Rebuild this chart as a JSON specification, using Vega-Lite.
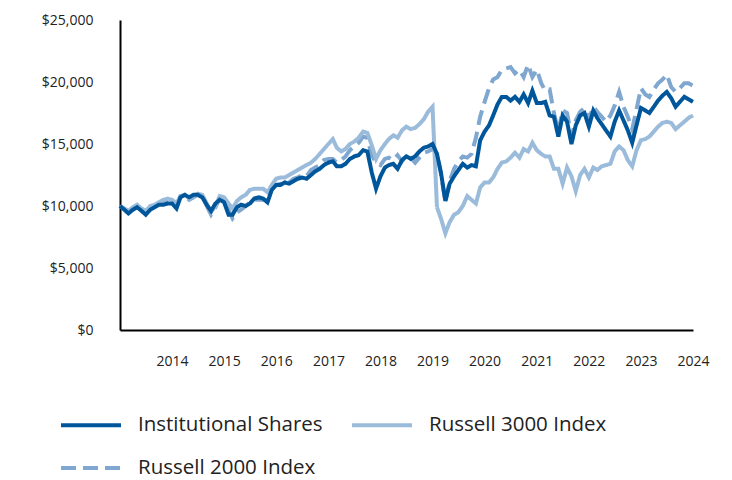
{
  "$schema": "https://vega.github.io/schema/vega-lite/v6.json",
  "width": 573,
  "height": 310,
  "autosize": {"type": "none"},
  "padding": {"left": 120, "top": 20, "right": 39, "bottom": 150},
  "background": "white",
  "config": {"font": "Open Sans", "view": {"stroke": null}},
  "datasets": {
    "inst": [
      {"date":"2013-01","series":"Institutional Shares","value":10000},{"date":"2013-02","series":"Institutional Shares","value":9700},{"date":"2013-03","series":"Institutional Shares","value":9400},{"date":"2013-04","series":"Institutional Shares","value":9700},{"date":"2013-05","series":"Institutional Shares","value":9900},{"date":"2013-06","series":"Institutional Shares","value":9600},{"date":"2013-07","series":"Institutional Shares","value":9300},{"date":"2013-08","series":"Institutional Shares","value":9700},{"date":"2013-09","series":"Institutional Shares","value":9900},{"date":"2013-10","series":"Institutional Shares","value":10100},{"date":"2013-11","series":"Institutional Shares","value":10100},{"date":"2013-12","series":"Institutional Shares","value":10200},
      {"date":"2014-01","series":"Institutional Shares","value":10200},{"date":"2014-02","series":"Institutional Shares","value":9800},{"date":"2014-03","series":"Institutional Shares","value":10700},{"date":"2014-04","series":"Institutional Shares","value":10900},{"date":"2014-05","series":"Institutional Shares","value":10700},{"date":"2014-06","series":"Institutional Shares","value":10900},{"date":"2014-07","series":"Institutional Shares","value":10900},{"date":"2014-08","series":"Institutional Shares","value":10700},{"date":"2014-09","series":"Institutional Shares","value":10100},{"date":"2014-10","series":"Institutional Shares","value":9600},{"date":"2014-11","series":"Institutional Shares","value":10200},{"date":"2014-12","series":"Institutional Shares","value":10500},
      {"date":"2015-01","series":"Institutional Shares","value":10300},{"date":"2015-02","series":"Institutional Shares","value":9300},{"date":"2015-03","series":"Institutional Shares","value":9300},{"date":"2015-04","series":"Institutional Shares","value":9900},{"date":"2015-05","series":"Institutional Shares","value":10100},{"date":"2015-06","series":"Institutional Shares","value":10000},{"date":"2015-07","series":"Institutional Shares","value":10200},{"date":"2015-08","series":"Institutional Shares","value":10600},{"date":"2015-09","series":"Institutional Shares","value":10700},{"date":"2015-10","series":"Institutional Shares","value":10600},{"date":"2015-11","series":"Institutional Shares","value":10300},{"date":"2015-12","series":"Institutional Shares","value":11300},
      {"date":"2016-01","series":"Institutional Shares","value":11700},{"date":"2016-02","series":"Institutional Shares","value":11700},{"date":"2016-03","series":"Institutional Shares","value":11900},{"date":"2016-04","series":"Institutional Shares","value":11800},{"date":"2016-05","series":"Institutional Shares","value":12000},{"date":"2016-06","series":"Institutional Shares","value":12200},{"date":"2016-07","series":"Institutional Shares","value":12300},{"date":"2016-08","series":"Institutional Shares","value":12200},{"date":"2016-09","series":"Institutional Shares","value":12500},{"date":"2016-10","series":"Institutional Shares","value":12800},{"date":"2016-11","series":"Institutional Shares","value":13000},{"date":"2016-12","series":"Institutional Shares","value":13300},
      {"date":"2017-01","series":"Institutional Shares","value":13500},{"date":"2017-02","series":"Institutional Shares","value":13600},{"date":"2017-03","series":"Institutional Shares","value":13200},{"date":"2017-04","series":"Institutional Shares","value":13200},{"date":"2017-05","series":"Institutional Shares","value":13400},{"date":"2017-06","series":"Institutional Shares","value":13800},{"date":"2017-07","series":"Institutional Shares","value":14000},{"date":"2017-08","series":"Institutional Shares","value":14100},{"date":"2017-09","series":"Institutional Shares","value":14500},{"date":"2017-10","series":"Institutional Shares","value":14400},{"date":"2017-11","series":"Institutional Shares","value":12700},{"date":"2017-12","series":"Institutional Shares","value":11400},
      {"date":"2018-01","series":"Institutional Shares","value":12400},{"date":"2018-02","series":"Institutional Shares","value":13100},{"date":"2018-03","series":"Institutional Shares","value":13300},{"date":"2018-04","series":"Institutional Shares","value":13400},{"date":"2018-05","series":"Institutional Shares","value":13000},{"date":"2018-06","series":"Institutional Shares","value":13700},{"date":"2018-07","series":"Institutional Shares","value":14000},{"date":"2018-08","series":"Institutional Shares","value":13800},{"date":"2018-09","series":"Institutional Shares","value":14000},{"date":"2018-10","series":"Institutional Shares","value":14400},{"date":"2018-11","series":"Institutional Shares","value":14700},{"date":"2018-12","series":"Institutional Shares","value":14800},
      {"date":"2019-01","series":"Institutional Shares","value":15000},{"date":"2019-02","series":"Institutional Shares","value":14200},{"date":"2019-03","series":"Institutional Shares","value":12700},{"date":"2019-04","series":"Institutional Shares","value":10400},{"date":"2019-05","series":"Institutional Shares","value":11800},{"date":"2019-06","series":"Institutional Shares","value":12400},{"date":"2019-07","series":"Institutional Shares","value":12900},{"date":"2019-08","series":"Institutional Shares","value":13400},{"date":"2019-09","series":"Institutional Shares","value":13100},{"date":"2019-10","series":"Institutional Shares","value":13300},{"date":"2019-11","series":"Institutional Shares","value":13200},{"date":"2019-12","series":"Institutional Shares","value":15300},
      {"date":"2020-01","series":"Institutional Shares","value":16000},{"date":"2020-02","series":"Institutional Shares","value":16500},{"date":"2020-03","series":"Institutional Shares","value":17300},{"date":"2020-04","series":"Institutional Shares","value":18200},{"date":"2020-05","series":"Institutional Shares","value":18800},{"date":"2020-06","series":"Institutional Shares","value":18800},{"date":"2020-07","series":"Institutional Shares","value":18500},{"date":"2020-08","series":"Institutional Shares","value":18800},{"date":"2020-09","series":"Institutional Shares","value":18400},{"date":"2020-10","series":"Institutional Shares","value":19000},{"date":"2020-11","series":"Institutional Shares","value":18300},{"date":"2020-12","series":"Institutional Shares","value":19300},
      {"date":"2021-01","series":"Institutional Shares","value":18300},{"date":"2021-02","series":"Institutional Shares","value":18300},{"date":"2021-03","series":"Institutional Shares","value":18400},{"date":"2021-04","series":"Institutional Shares","value":17300},{"date":"2021-05","series":"Institutional Shares","value":17200},{"date":"2021-06","series":"Institutional Shares","value":15600},{"date":"2021-07","series":"Institutional Shares","value":17300},{"date":"2021-08","series":"Institutional Shares","value":16800},{"date":"2021-09","series":"Institutional Shares","value":15000},{"date":"2021-10","series":"Institutional Shares","value":16500},{"date":"2021-11","series":"Institutional Shares","value":17300},{"date":"2021-12","series":"Institutional Shares","value":17500},
      {"date":"2022-01","series":"Institutional Shares","value":16400},{"date":"2022-02","series":"Institutional Shares","value":17700},{"date":"2022-03","series":"Institutional Shares","value":17100},{"date":"2022-04","series":"Institutional Shares","value":16600},{"date":"2022-05","series":"Institutional Shares","value":16100},{"date":"2022-06","series":"Institutional Shares","value":15600},{"date":"2022-07","series":"Institutional Shares","value":16800},{"date":"2022-08","series":"Institutional Shares","value":17700},{"date":"2022-09","series":"Institutional Shares","value":16900},{"date":"2022-10","series":"Institutional Shares","value":16100},{"date":"2022-11","series":"Institutional Shares","value":15100},{"date":"2022-12","series":"Institutional Shares","value":16500},
      {"date":"2023-01","series":"Institutional Shares","value":17900},{"date":"2023-02","series":"Institutional Shares","value":17700},{"date":"2023-03","series":"Institutional Shares","value":17500},{"date":"2023-04","series":"Institutional Shares","value":18000},{"date":"2023-05","series":"Institutional Shares","value":18500},{"date":"2023-06","series":"Institutional Shares","value":18900},{"date":"2023-07","series":"Institutional Shares","value":19200},{"date":"2023-08","series":"Institutional Shares","value":18700},{"date":"2023-09","series":"Institutional Shares","value":18000},{"date":"2023-10","series":"Institutional Shares","value":18400},{"date":"2023-11","series":"Institutional Shares","value":18800},{"date":"2023-12","series":"Institutional Shares","value":18600},
      {"date":"2024-01","series":"Institutional Shares","value":18400}
    ],
    "r3000": [
      {"date":"2013-01","series":"Russell 3000 Index","value":10000},{"date":"2013-02","series":"Russell 3000 Index","value":9800},{"date":"2013-03","series":"Russell 3000 Index","value":9600},{"date":"2013-04","series":"Russell 3000 Index","value":9900},{"date":"2013-05","series":"Russell 3000 Index","value":10100},{"date":"2013-06","series":"Russell 3000 Index","value":9800},{"date":"2013-07","series":"Russell 3000 Index","value":9600},{"date":"2013-08","series":"Russell 3000 Index","value":10000},{"date":"2013-09","series":"Russell 3000 Index","value":10100},{"date":"2013-10","series":"Russell 3000 Index","value":10300},{"date":"2013-11","series":"Russell 3000 Index","value":10500},{"date":"2013-12","series":"Russell 3000 Index","value":10600},
      {"date":"2014-01","series":"Russell 3000 Index","value":10500},{"date":"2014-02","series":"Russell 3000 Index","value":10200},{"date":"2014-03","series":"Russell 3000 Index","value":10800},{"date":"2014-04","series":"Russell 3000 Index","value":10900},{"date":"2014-05","series":"Russell 3000 Index","value":10600},{"date":"2014-06","series":"Russell 3000 Index","value":10800},{"date":"2014-07","series":"Russell 3000 Index","value":11000},{"date":"2014-08","series":"Russell 3000 Index","value":10900},{"date":"2014-09","series":"Russell 3000 Index","value":10200},{"date":"2014-10","series":"Russell 3000 Index","value":9500},{"date":"2014-11","series":"Russell 3000 Index","value":10000},{"date":"2014-12","series":"Russell 3000 Index","value":10800},
      {"date":"2015-01","series":"Russell 3000 Index","value":10700},{"date":"2015-02","series":"Russell 3000 Index","value":10200},{"date":"2015-03","series":"Russell 3000 Index","value":9800},{"date":"2015-04","series":"Russell 3000 Index","value":10400},{"date":"2015-05","series":"Russell 3000 Index","value":10700},{"date":"2015-06","series":"Russell 3000 Index","value":10900},{"date":"2015-07","series":"Russell 3000 Index","value":11300},{"date":"2015-08","series":"Russell 3000 Index","value":11400},{"date":"2015-09","series":"Russell 3000 Index","value":11400},{"date":"2015-10","series":"Russell 3000 Index","value":11400},{"date":"2015-11","series":"Russell 3000 Index","value":11100},{"date":"2015-12","series":"Russell 3000 Index","value":11700},
      {"date":"2016-01","series":"Russell 3000 Index","value":12200},{"date":"2016-02","series":"Russell 3000 Index","value":12300},{"date":"2016-03","series":"Russell 3000 Index","value":12300},{"date":"2016-04","series":"Russell 3000 Index","value":12500},{"date":"2016-05","series":"Russell 3000 Index","value":12700},{"date":"2016-06","series":"Russell 3000 Index","value":12900},{"date":"2016-07","series":"Russell 3000 Index","value":13100},{"date":"2016-08","series":"Russell 3000 Index","value":13300},{"date":"2016-09","series":"Russell 3000 Index","value":13500},{"date":"2016-10","series":"Russell 3000 Index","value":13800},{"date":"2016-11","series":"Russell 3000 Index","value":14200},{"date":"2016-12","series":"Russell 3000 Index","value":14600},
      {"date":"2017-01","series":"Russell 3000 Index","value":15000},{"date":"2017-02","series":"Russell 3000 Index","value":15400},{"date":"2017-03","series":"Russell 3000 Index","value":14700},{"date":"2017-04","series":"Russell 3000 Index","value":14400},{"date":"2017-05","series":"Russell 3000 Index","value":14600},{"date":"2017-06","series":"Russell 3000 Index","value":15000},{"date":"2017-07","series":"Russell 3000 Index","value":15200},{"date":"2017-08","series":"Russell 3000 Index","value":15500},{"date":"2017-09","series":"Russell 3000 Index","value":16000},{"date":"2017-10","series":"Russell 3000 Index","value":15900},{"date":"2017-11","series":"Russell 3000 Index","value":14900},{"date":"2017-12","series":"Russell 3000 Index","value":13800},
      {"date":"2018-01","series":"Russell 3000 Index","value":14500},{"date":"2018-02","series":"Russell 3000 Index","value":15000},{"date":"2018-03","series":"Russell 3000 Index","value":15400},{"date":"2018-04","series":"Russell 3000 Index","value":15700},{"date":"2018-05","series":"Russell 3000 Index","value":15500},{"date":"2018-06","series":"Russell 3000 Index","value":16100},{"date":"2018-07","series":"Russell 3000 Index","value":16400},{"date":"2018-08","series":"Russell 3000 Index","value":16200},{"date":"2018-09","series":"Russell 3000 Index","value":16300},{"date":"2018-10","series":"Russell 3000 Index","value":16600},{"date":"2018-11","series":"Russell 3000 Index","value":17000},{"date":"2018-12","series":"Russell 3000 Index","value":17600},
      {"date":"2019-01","series":"Russell 3000 Index","value":18000},{"date":"2019-02","series":"Russell 3000 Index","value":9900},{"date":"2019-03","series":"Russell 3000 Index","value":9000},{"date":"2019-04","series":"Russell 3000 Index","value":7800},{"date":"2019-05","series":"Russell 3000 Index","value":8700},{"date":"2019-06","series":"Russell 3000 Index","value":9300},{"date":"2019-07","series":"Russell 3000 Index","value":9500},{"date":"2019-08","series":"Russell 3000 Index","value":10000},{"date":"2019-09","series":"Russell 3000 Index","value":10800},{"date":"2019-10","series":"Russell 3000 Index","value":10500},{"date":"2019-11","series":"Russell 3000 Index","value":10200},{"date":"2019-12","series":"Russell 3000 Index","value":11500},
      {"date":"2020-01","series":"Russell 3000 Index","value":11900},{"date":"2020-02","series":"Russell 3000 Index","value":11900},{"date":"2020-03","series":"Russell 3000 Index","value":12300},{"date":"2020-04","series":"Russell 3000 Index","value":13000},{"date":"2020-05","series":"Russell 3000 Index","value":13500},{"date":"2020-06","series":"Russell 3000 Index","value":13600},{"date":"2020-07","series":"Russell 3000 Index","value":13900},{"date":"2020-08","series":"Russell 3000 Index","value":14300},{"date":"2020-09","series":"Russell 3000 Index","value":13900},{"date":"2020-10","series":"Russell 3000 Index","value":14600},{"date":"2020-11","series":"Russell 3000 Index","value":14400},{"date":"2020-12","series":"Russell 3000 Index","value":15100},
      {"date":"2021-01","series":"Russell 3000 Index","value":14500},{"date":"2021-02","series":"Russell 3000 Index","value":14200},{"date":"2021-03","series":"Russell 3000 Index","value":14000},{"date":"2021-04","series":"Russell 3000 Index","value":14000},{"date":"2021-05","series":"Russell 3000 Index","value":13000},{"date":"2021-06","series":"Russell 3000 Index","value":13000},{"date":"2021-07","series":"Russell 3000 Index","value":11800},{"date":"2021-08","series":"Russell 3000 Index","value":13100},{"date":"2021-09","series":"Russell 3000 Index","value":12400},{"date":"2021-10","series":"Russell 3000 Index","value":11200},{"date":"2021-11","series":"Russell 3000 Index","value":12500},{"date":"2021-12","series":"Russell 3000 Index","value":13000},
      {"date":"2022-01","series":"Russell 3000 Index","value":12300},{"date":"2022-02","series":"Russell 3000 Index","value":13100},{"date":"2022-03","series":"Russell 3000 Index","value":12900},{"date":"2022-04","series":"Russell 3000 Index","value":13200},{"date":"2022-05","series":"Russell 3000 Index","value":13300},{"date":"2022-06","series":"Russell 3000 Index","value":13400},{"date":"2022-07","series":"Russell 3000 Index","value":14400},{"date":"2022-08","series":"Russell 3000 Index","value":14800},{"date":"2022-09","series":"Russell 3000 Index","value":14500},{"date":"2022-10","series":"Russell 3000 Index","value":13700},{"date":"2022-11","series":"Russell 3000 Index","value":13200},{"date":"2022-12","series":"Russell 3000 Index","value":14500},
      {"date":"2023-01","series":"Russell 3000 Index","value":15300},{"date":"2023-02","series":"Russell 3000 Index","value":15400},{"date":"2023-03","series":"Russell 3000 Index","value":15600},{"date":"2023-04","series":"Russell 3000 Index","value":16000},{"date":"2023-05","series":"Russell 3000 Index","value":16400},{"date":"2023-06","series":"Russell 3000 Index","value":16700},{"date":"2023-07","series":"Russell 3000 Index","value":16800},{"date":"2023-08","series":"Russell 3000 Index","value":16700},{"date":"2023-09","series":"Russell 3000 Index","value":16200},{"date":"2023-10","series":"Russell 3000 Index","value":16500},{"date":"2023-11","series":"Russell 3000 Index","value":16800},{"date":"2023-12","series":"Russell 3000 Index","value":17100},
      {"date":"2024-01","series":"Russell 3000 Index","value":17300}
    ],
    "r2000": [
      {"date":"2013-01","series":"Russell 2000 Index","value":10000},{"date":"2013-02","series":"Russell 2000 Index","value":9700},{"date":"2013-03","series":"Russell 2000 Index","value":9500},{"date":"2013-04","series":"Russell 2000 Index","value":9800},{"date":"2013-05","series":"Russell 2000 Index","value":10000},{"date":"2013-06","series":"Russell 2000 Index","value":9700},{"date":"2013-07","series":"Russell 2000 Index","value":9400},{"date":"2013-08","series":"Russell 2000 Index","value":9800},{"date":"2013-09","series":"Russell 2000 Index","value":10000},{"date":"2013-10","series":"Russell 2000 Index","value":10200},{"date":"2013-11","series":"Russell 2000 Index","value":10300},{"date":"2013-12","series":"Russell 2000 Index","value":10400},
      {"date":"2014-01","series":"Russell 2000 Index","value":10300},{"date":"2014-02","series":"Russell 2000 Index","value":10000},{"date":"2014-03","series":"Russell 2000 Index","value":10800},{"date":"2014-04","series":"Russell 2000 Index","value":10800},{"date":"2014-05","series":"Russell 2000 Index","value":10500},{"date":"2014-06","series":"Russell 2000 Index","value":10700},{"date":"2014-07","series":"Russell 2000 Index","value":10900},{"date":"2014-08","series":"Russell 2000 Index","value":10800},{"date":"2014-09","series":"Russell 2000 Index","value":10000},{"date":"2014-10","series":"Russell 2000 Index","value":9300},{"date":"2014-11","series":"Russell 2000 Index","value":9900},{"date":"2014-12","series":"Russell 2000 Index","value":10600},
      {"date":"2015-01","series":"Russell 2000 Index","value":10500},{"date":"2015-02","series":"Russell 2000 Index","value":9700},{"date":"2015-03","series":"Russell 2000 Index","value":9000},{"date":"2015-04","series":"Russell 2000 Index","value":9500},{"date":"2015-05","series":"Russell 2000 Index","value":9700},{"date":"2015-06","series":"Russell 2000 Index","value":10000},{"date":"2015-07","series":"Russell 2000 Index","value":10300},{"date":"2015-08","series":"Russell 2000 Index","value":10500},{"date":"2015-09","series":"Russell 2000 Index","value":10500},{"date":"2015-10","series":"Russell 2000 Index","value":10500},{"date":"2015-11","series":"Russell 2000 Index","value":10400},{"date":"2015-12","series":"Russell 2000 Index","value":11400},
      {"date":"2016-01","series":"Russell 2000 Index","value":11700},{"date":"2016-02","series":"Russell 2000 Index","value":11800},{"date":"2016-03","series":"Russell 2000 Index","value":12000},{"date":"2016-04","series":"Russell 2000 Index","value":11900},{"date":"2016-05","series":"Russell 2000 Index","value":12200},{"date":"2016-06","series":"Russell 2000 Index","value":12300},{"date":"2016-07","series":"Russell 2000 Index","value":12500},{"date":"2016-08","series":"Russell 2000 Index","value":12400},{"date":"2016-09","series":"Russell 2000 Index","value":12900},{"date":"2016-10","series":"Russell 2000 Index","value":13100},{"date":"2016-11","series":"Russell 2000 Index","value":13300},{"date":"2016-12","series":"Russell 2000 Index","value":13700},
      {"date":"2017-01","series":"Russell 2000 Index","value":13800},{"date":"2017-02","series":"Russell 2000 Index","value":13800},{"date":"2017-03","series":"Russell 2000 Index","value":13500},{"date":"2017-04","series":"Russell 2000 Index","value":13700},{"date":"2017-05","series":"Russell 2000 Index","value":14000},{"date":"2017-06","series":"Russell 2000 Index","value":14500},{"date":"2017-07","series":"Russell 2000 Index","value":14800},{"date":"2017-08","series":"Russell 2000 Index","value":15100},{"date":"2017-09","series":"Russell 2000 Index","value":15600},{"date":"2017-10","series":"Russell 2000 Index","value":15500},{"date":"2017-11","series":"Russell 2000 Index","value":14100},{"date":"2017-12","series":"Russell 2000 Index","value":13500},
      {"date":"2018-01","series":"Russell 2000 Index","value":13300},{"date":"2018-02","series":"Russell 2000 Index","value":13800},{"date":"2018-03","series":"Russell 2000 Index","value":13900},{"date":"2018-04","series":"Russell 2000 Index","value":13700},{"date":"2018-05","series":"Russell 2000 Index","value":14100},{"date":"2018-06","series":"Russell 2000 Index","value":13600},{"date":"2018-07","series":"Russell 2000 Index","value":14100},{"date":"2018-08","series":"Russell 2000 Index","value":13900},{"date":"2018-09","series":"Russell 2000 Index","value":13500},{"date":"2018-10","series":"Russell 2000 Index","value":13900},{"date":"2018-11","series":"Russell 2000 Index","value":14300},{"date":"2018-12","series":"Russell 2000 Index","value":14400},
      {"date":"2019-01","series":"Russell 2000 Index","value":14600},{"date":"2019-02","series":"Russell 2000 Index","value":14200},{"date":"2019-03","series":"Russell 2000 Index","value":12600},{"date":"2019-04","series":"Russell 2000 Index","value":10300},{"date":"2019-05","series":"Russell 2000 Index","value":12000},{"date":"2019-06","series":"Russell 2000 Index","value":13000},{"date":"2019-07","series":"Russell 2000 Index","value":13600},{"date":"2019-08","series":"Russell 2000 Index","value":14000},{"date":"2019-09","series":"Russell 2000 Index","value":13900},{"date":"2019-10","series":"Russell 2000 Index","value":14200},{"date":"2019-11","series":"Russell 2000 Index","value":15500},{"date":"2019-12","series":"Russell 2000 Index","value":17200},
      {"date":"2020-01","series":"Russell 2000 Index","value":18400},{"date":"2020-02","series":"Russell 2000 Index","value":19500},{"date":"2020-03","series":"Russell 2000 Index","value":20200},{"date":"2020-04","series":"Russell 2000 Index","value":20400},{"date":"2020-05","series":"Russell 2000 Index","value":21000},{"date":"2020-06","series":"Russell 2000 Index","value":21100},{"date":"2020-07","series":"Russell 2000 Index","value":21200},{"date":"2020-08","series":"Russell 2000 Index","value":20700},{"date":"2020-09","series":"Russell 2000 Index","value":21000},{"date":"2020-10","series":"Russell 2000 Index","value":20400},{"date":"2020-11","series":"Russell 2000 Index","value":21400},{"date":"2020-12","series":"Russell 2000 Index","value":20400},
      {"date":"2021-01","series":"Russell 2000 Index","value":21000},{"date":"2021-02","series":"Russell 2000 Index","value":19900},{"date":"2021-03","series":"Russell 2000 Index","value":19300},{"date":"2021-04","series":"Russell 2000 Index","value":19400},{"date":"2021-05","series":"Russell 2000 Index","value":17500},{"date":"2021-06","series":"Russell 2000 Index","value":16000},{"date":"2021-07","series":"Russell 2000 Index","value":17700},{"date":"2021-08","series":"Russell 2000 Index","value":17500},{"date":"2021-09","series":"Russell 2000 Index","value":15600},{"date":"2021-10","series":"Russell 2000 Index","value":16900},{"date":"2021-11","series":"Russell 2000 Index","value":17600},{"date":"2021-12","series":"Russell 2000 Index","value":17900},
      {"date":"2022-01","series":"Russell 2000 Index","value":17000},{"date":"2022-02","series":"Russell 2000 Index","value":18000},{"date":"2022-03","series":"Russell 2000 Index","value":17600},{"date":"2022-04","series":"Russell 2000 Index","value":17200},{"date":"2022-05","series":"Russell 2000 Index","value":16800},{"date":"2022-06","series":"Russell 2000 Index","value":17300},{"date":"2022-07","series":"Russell 2000 Index","value":18100},{"date":"2022-08","series":"Russell 2000 Index","value":19200},{"date":"2022-09","series":"Russell 2000 Index","value":18000},{"date":"2022-10","series":"Russell 2000 Index","value":17200},{"date":"2022-11","series":"Russell 2000 Index","value":16200},{"date":"2022-12","series":"Russell 2000 Index","value":17800},
      {"date":"2023-01","series":"Russell 2000 Index","value":19500},{"date":"2023-02","series":"Russell 2000 Index","value":19000},{"date":"2023-03","series":"Russell 2000 Index","value":18800},{"date":"2023-04","series":"Russell 2000 Index","value":19400},{"date":"2023-05","series":"Russell 2000 Index","value":19900},{"date":"2023-06","series":"Russell 2000 Index","value":20200},{"date":"2023-07","series":"Russell 2000 Index","value":20600},{"date":"2023-08","series":"Russell 2000 Index","value":19600},{"date":"2023-09","series":"Russell 2000 Index","value":19200},{"date":"2023-10","series":"Russell 2000 Index","value":19500},{"date":"2023-11","series":"Russell 2000 Index","value":19900},{"date":"2023-12","series":"Russell 2000 Index","value":19900},
      {"date":"2024-01","series":"Russell 2000 Index","value":19700}
    ]
  },
  "encoding": {
    "x": {
      "field": "date", "type": "temporal",
      "scale": {"type": "utc", "domain": [1356998400000, 1704067200000]},
      "axis": {
        "title": null,
        "values": [1388534400000, 1420070400000, 1451606400000, 1483228800000, 1514764800000, 1546300800000, 1577836800000, 1609459200000, 1640995200000, 1672531200000, 1704067200000],
        "format": "%Y", "formatType": "utc",
        "ticks": false, "grid": false,
        "domainColor": "#000000", "domainWidth": 2,
        "labelFontSize": 14, "labelColor": "#222222", "labelPadding": 24,
        "labelFlush": false, "labelOverlap": false
      }
    },
    "y": {
      "field": "value", "type": "quantitative",
      "scale": {"domain": [0, 25000], "nice": false, "zero": true},
      "axis": {
        "title": null,
        "values": [0, 5000, 10000, 15000, 20000, 25000],
        "format": "$,.0f",
        "ticks": false, "grid": false,
        "domainColor": "#000000", "domainWidth": 2,
        "labelFontSize": 14, "labelColor": "#222222", "labelPadding": 27,
        "labelFlush": false, "labelOverlap": false
      }
    },
    "color": {
      "field": "series", "type": "nominal",
      "scale": {"domain": ["Institutional Shares", "Russell 3000 Index", "Russell 2000 Index"], "range": ["#00569a", "#9bbbdb", "#7fa7d0"]},
      "legend": {
        "title": null, "orient": "none", "legendX": -61, "legendY": 373,
        "direction": "horizontal", "columns": 2,
        "symbolType": "stroke", "symbolSize": 3600, "symbolStrokeWidth": 4,
        "labelFontSize": 20.5, "labelOffset": 15, "labelColor": "#222222", "labelLimit": 400,
        "columnPadding": 21, "rowPadding": 0
      }
    },
    "strokeDash": {
      "field": "series", "type": "nominal",
      "scale": {"domain": ["Institutional Shares", "Russell 3000 Index", "Russell 2000 Index"], "range": [[1, 0], [1, 0], [15, 7]]},
      "legend": {
        "title": null, "orient": "none", "legendX": -61, "legendY": 373,
        "direction": "horizontal", "columns": 2,
        "symbolType": "stroke", "symbolSize": 3600, "symbolStrokeWidth": 4,
        "labelFontSize": 20.5, "labelOffset": 15, "labelColor": "#222222", "labelLimit": 400,
        "columnPadding": 21, "rowPadding": 0
      }
    }
  },
  "layer": [
    {"data": {"name": "r2000"}, "mark": {"type": "line", "strokeWidth": 4}},
    {"data": {"name": "r3000"}, "mark": {"type": "line", "strokeWidth": 4}},
    {"data": {"name": "inst"}, "mark": {"type": "line", "strokeWidth": 4}}
  ]
}
